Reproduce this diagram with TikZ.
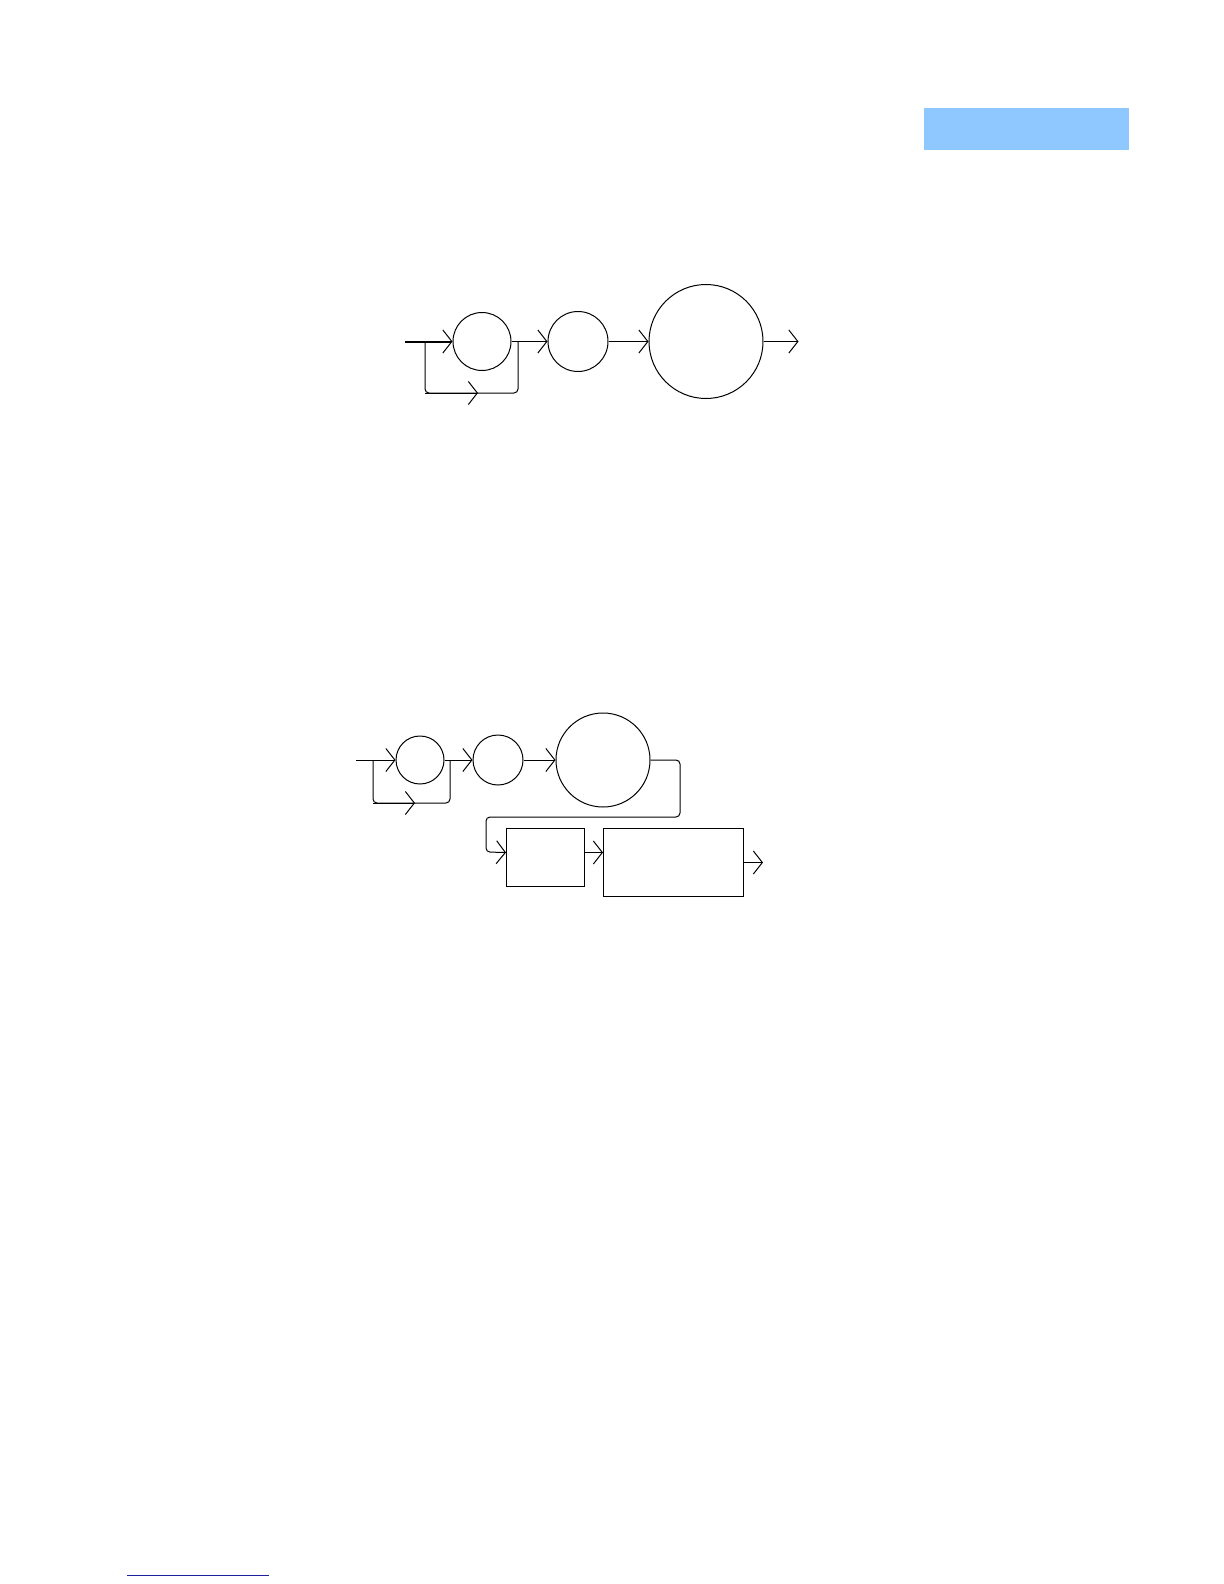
\documentclass[tikz,border=0pt]{standalone}
\usetikzlibrary{arrows.meta}

\definecolor{tabBlue}{RGB}{142,200,255}
\definecolor{linkBlue}{RGB}{30,30,160}

\tikzset{
  chev/.style={-{Straight Barb[length=4.5pt,width=11.5pt,line width=0.5pt]}},
  bubble/.style={draw, circle, inner sep=0pt},
  block/.style={draw, rectangle, inner sep=0pt, anchor=north west},
}

\begin{document}
\begin{tikzpicture}[x=0.5pt, y=-0.5pt, line width=0.5pt]
    \useasboundingbox (0,0) rectangle (1224,1584);

    % Header tab
    \fill[tabBlue] (924,108) rectangle (1129,150);

    % First syntax diagram
    \node[bubble, minimum size=29pt] (optA) at (482,341.5) {};
    \node[bubble, minimum size=30pt] (keyA) at (578,341.5) {};
    \node[bubble, minimum size=57pt] (valA) at (706,341.5) {};
    \coordinate (inA) at (405,341.5);
    \coordinate (forkA) at (425,341.5);
    \coordinate (joinA) at (518,341.5);

    \draw[line width=1pt, chev] (inA) -- (optA.west);
    \draw[rounded corners=2pt] (forkA) -- ++(0,51.5) -| (joinA);
    \draw[chev] (forkA) ++(0,51.5) -- ++(53,0);
    \draw[chev] (optA.east) -- (keyA.west);
    \draw[chev] (keyA.east) -- (valA.west);
    \draw[chev] (valA.east) -- ++(35,0) coordinate (outA);

    % Second syntax diagram
    \node[bubble, minimum size=24pt] (optB) at (420,760) {};
    \node[bubble, minimum size=25pt] (keyB) at (498,760) {};
    \node[bubble, minimum size=47pt] (valB) at (603,760) {};
    \node[block, minimum width=39pt, minimum height=29pt] (blkA) at (506,828) {};
    \node[block, minimum width=70pt, minimum height=34pt] (blkB) at (603,828) {};
    \coordinate (inB) at (356,760);
    \coordinate (forkB) at (373,760);
    \coordinate (joinB) at (450,760);

    \draw[chev] (inB) -- (optB.west);
    \draw[rounded corners=2pt] (forkB) -- ++(0,43) -| (joinB);
    \draw[chev] (forkB) ++(0,43) -- ++(42,0);
    \draw[chev] (optB.east) -- (keyB.west);
    \draw[chev] (keyB.east) -- (valB.west);
    % wrap to the next row
    \draw[rounded corners=2pt, chev] (valB.east) -- (680,760) -- (680,817)
        -- (486,817) -- (486,852) -- ([yshift=2.5pt]blkA.west);
    \draw[chev] ([yshift=2.5pt]blkA.east) -- ([yshift=2.5pt]blkA.east -| blkB.west);
    \draw[chev] (blkB.east) -- ++(19,0) coordinate (outB);

    % Footnote rule
    \draw[linkBlue] (127,1575) -- (269,1575);

\end{tikzpicture}
\end{document}
